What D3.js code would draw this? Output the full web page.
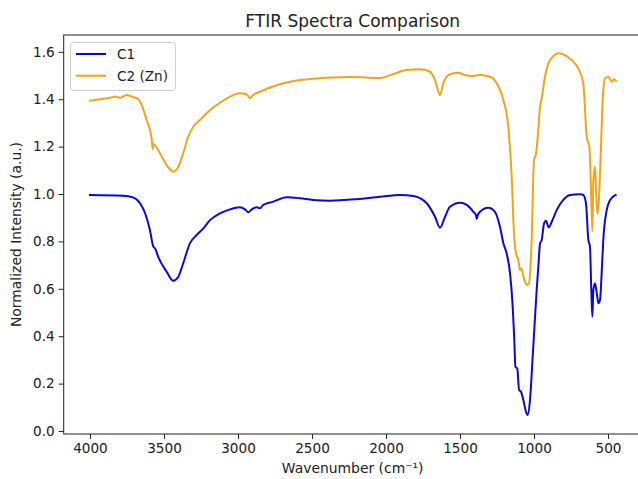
<!DOCTYPE html>
<html><head><meta charset="utf-8">
<script src="https://cdn.jsdelivr.net/npm/d3@7"></script>
<style>body{margin:0;background:#fff}svg{display:block}text{font-family:"DejaVu Sans",sans-serif;fill:#222}</style>
</head><body>
<script>
const title = "FTIR Spectra Comparison";
const xLabel = "Wavenumber (cm\u207B\u00B9)";
const yLabel = "Normalized Intensity (a.u.)";
const seriesNames = ["C1", "C2 (Zn)"];
const seriesColors = ["#0a0ad2", "#f0a61c"];
const xTicks = [4000, 3500, 3000, 2500, 2000, 1500, 1000, 500];
const yTicks = [0.0, 0.2, 0.4, 0.6, 0.8, 1.0, 1.2, 1.4, 1.6];

const c1Wavenumber = [4000,3775,3709,3662,3628,3595,3572,3560,3539,3482,3437,3403,3370,3324,3279,3234,3189,3122,3054,2986,2953,2930,2907,2874,2851,2829,2761,2671,2581,2493,2378,2200,2041,1905,1815,1725,1669,1635,1601,1568,1500,1455,1410,1392,1387,1380,1365,1309,1264,1230,1207,1185,1162,1144,1133,1126,1113,1101,1088,1072,1054,1043,1027,1009,993,982,971,959,948,932,919,901,880,847,802,757,689,667,649,633,622,613,606,599,588,576,565,554,543,532,509,486,448];
const c1Values = [0.996,0.993,0.986,0.961,0.920,0.848,0.778,0.770,0.735,0.672,0.634,0.651,0.708,0.793,0.827,0.855,0.890,0.918,0.935,0.944,0.935,0.923,0.935,0.944,0.940,0.954,0.968,0.986,0.982,0.975,0.972,0.978,0.988,0.996,0.992,0.961,0.904,0.858,0.904,0.946,0.963,0.954,0.925,0.910,0.895,0.911,0.925,0.942,0.925,0.862,0.792,0.750,0.665,0.525,0.384,0.271,0.264,0.173,0.166,0.131,0.081,0.068,0.131,0.314,0.482,0.595,0.693,0.792,0.806,0.876,0.887,0.859,0.883,0.932,0.975,0.996,0.999,0.996,0.961,0.806,0.778,0.595,0.482,0.595,0.623,0.581,0.539,0.553,0.665,0.806,0.932,0.975,0.996];

const c2Wavenumber = [4000,3932,3865,3830,3797,3752,3718,3673,3651,3617,3595,3580,3577,3572,3527,3482,3437,3403,3370,3336,3302,3257,3189,3122,3054,2986,2941,2919,2897,2851,2581,2243,2041,1951,1860,1770,1703,1669,1635,1613,1579,1512,1466,1410,1365,1297,1252,1207,1174,1151,1135,1122,1106,1095,1085,1068,1050,1034,1016,1000,986,971,959,948,926,903,870,836,791,746,701,667,644,626,617,606,599,588,581,572,563,550,536,520,498,475,459,446];
const c2Values = [1.394,1.400,1.406,1.412,1.406,1.418,1.411,1.400,1.376,1.312,1.270,1.215,1.190,1.210,1.172,1.122,1.094,1.115,1.172,1.242,1.284,1.312,1.354,1.385,1.411,1.425,1.421,1.404,1.418,1.432,1.481,1.494,1.490,1.506,1.523,1.526,1.516,1.481,1.418,1.467,1.502,1.512,1.502,1.498,1.502,1.495,1.467,1.397,1.284,1.073,0.830,0.750,0.722,0.679,0.686,0.644,0.616,0.623,0.806,1.143,1.172,1.270,1.368,1.404,1.495,1.551,1.582,1.594,1.586,1.565,1.530,1.467,1.242,1.200,1.059,0.841,1.059,1.115,1.017,0.918,0.961,1.157,1.397,1.488,1.495,1.474,1.484,1.478];

const W = 638, H = 479;
const plot = {left: 63.7, right: 641.7, top: 35, bottom: 434};
const cx = (plot.left + plot.right) / 2, cy = (plot.top + plot.bottom) / 2;
const svg = d3.select("body").append("svg").attr("width", W).attr("height", H);

const x = d3.scaleLinear().domain([4177.5, 272.5]).range([plot.left, plot.right]);
const y = d3.scaleLinear().domain([-0.0127, 1.671]).range([plot.bottom, plot.top]);

const series = [
  {name: seriesNames[0], color: seriesColors[0], pts: c1Wavenumber.map((w, i) => [w, c1Values[i]])},
  {name: seriesNames[1], color: seriesColors[1], pts: c2Wavenumber.map((w, i) => [w, c2Values[i]])}
];

const line = d3.line().x(d => x(d[0])).y(d => y(d[1])).curve(d3.curveMonotoneX);
svg.append("g").selectAll("path").data(series).join("path")
  .attr("d", d => line(d.pts.slice().sort((a, b) => a[0] - b[0])))
  .attr("fill", "none").attr("stroke", d => d.color).attr("stroke-width", 2)
  .attr("stroke-linejoin", "round").attr("stroke-linecap", "square");

// axes
const xAxis = d3.axisBottom(x).tickValues(xTicks).tickSize(5).tickPadding(4).tickFormat(d3.format("d"));
const gx = svg.append("g").attr("transform", `translate(0,${plot.bottom})`).call(xAxis);
const yAxis = d3.axisLeft(y).tickValues(yTicks).tickSize(5).tickPadding(4).tickFormat(d3.format(".1f"));
const gy = svg.append("g").attr("transform", `translate(${plot.left},0)`).call(yAxis);
[gx, gy].forEach(g => {
  g.select(".domain").remove();
  g.selectAll("line").attr("stroke", "#222").attr("stroke-width", 1);
  g.selectAll("text").style("font-size", "13.6px").attr("fill", "#222");
});

svg.append("rect").attr("x", plot.left).attr("y", plot.top)
  .attr("width", plot.right - plot.left).attr("height", plot.bottom - plot.top)
  .attr("fill", "none").attr("stroke", "#222").attr("stroke-width", 1);

svg.append("text").attr("x", cx).attr("y", 27).attr("text-anchor", "middle")
  .style("font-size", "17px").text(title);
svg.append("text").attr("x", cx).attr("y", 473).attr("text-anchor", "middle")
  .style("font-size", "13.9px").text(xLabel);
svg.append("text").attr("transform", `translate(21,${cy}) rotate(-90)`).attr("text-anchor", "middle")
  .style("font-size", "13.9px").text(yLabel);

// legend
const lg = svg.append("g");
lg.append("rect").attr("x", 70.5).attr("y", 42.5).attr("width", 105).attr("height", 48)
  .attr("rx", 3).attr("fill", "#fff").attr("fill-opacity", 0.8).attr("stroke", "#d0d0d0");
series.forEach((s, i) => {
  const yy = 54 + i * 21.7;
  lg.append("line").attr("x1", 76).attr("x2", 106).attr("y1", yy).attr("y2", yy)
    .attr("stroke", s.color).attr("stroke-width", 2);
  lg.append("text").attr("x", 117).attr("y", yy + 4.8).style("font-size", "13.6px").text(s.name);
});
</script>
</body></html>
